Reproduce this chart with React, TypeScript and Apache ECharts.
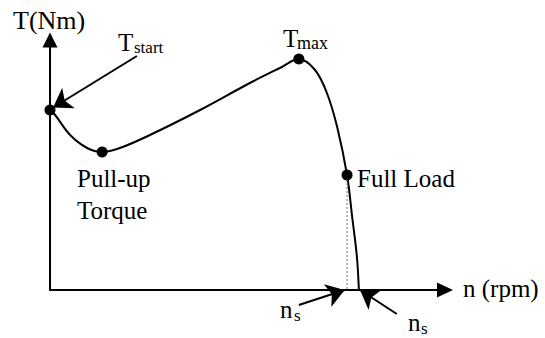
import React, { useEffect, useRef } from "react";
import * as echarts from "echarts";

// torque-speed curve [n, T] in arbitrary units (0..100)
const curveN = [0, 1.3, 5.1, 9.4, 13.2, 17.7, 25.3, 38.0, 50.6, 58.2, 63.0, 67.1, 70.1, 72.7, 75.2, 76.5, 77.7, 78.2];
const curveT = [72, 70, 62, 56.8, 55.2, 56.8, 62, 72, 82.8, 88.8, 92.4, 88, 78.8, 65.2, 46, 29.2, 13.2, 0];

// marked points: Tstart, Pull-up, Tmax, Full load
const pointN = [0, 13.2, 63.0, 75.2];
const pointT = [72, 55.2, 92.4, 46];

// annotation arrows [tailN, tailT, tipN, tipT]
const arrowTstart = [22.0, 93.6, 0.8, 73.0];
const arrowNsLeft = [63.0, -6.0, 74.6, 0];
const arrowNsRight = [87.8, -9.6, 78.5, 0];

const FONT = "'Liberation Serif', 'Times New Roman', serif";

export default function App() {
  const ref = useRef<HTMLDivElement>(null);
  useEffect(() => {
    if (!ref.current) return;
    const chart = echarts.init(ref.current, undefined, { renderer: "svg" });
    const curve = curveN.map((n, i) => [n, curveT[i]]);
    const pts = pointN.map((n, i) => [n, pointT[i]]);
    const mkArrow = (a: number[]) => ({ coords: [[a[0], a[1]], [a[2], a[3]]] });
    const txt = (text: string, x: number, y: number, size: number) => ({
      type: "text",
      x,
      y,
      style: {
        text,
        fontFamily: FONT,
        fontSize: size,
        fill: "#000",
        align: "left",
        verticalAlign: "middle",
      },
    });
    chart.setOption({
      animation: false,
      backgroundColor: "#fff",
      grid: { left: 50, right: 100, top: 40, bottom: 48 },
      xAxis: {
        type: "value",
        min: 0,
        max: 100,
        axisLine: {
          show: true,
          onZero: false,
          symbol: ["none", "triangle"],
          symbolSize: [15, 16],
          lineStyle: { color: "#000", width: 2 },
        },
        axisTick: { show: false },
        axisLabel: { show: false },
        splitLine: { show: false },
      },
      yAxis: {
        type: "value",
        min: 0,
        max: 100,
        axisLine: {
          show: true,
          onZero: false,
          symbol: ["none", "triangle"],
          symbolSize: [15, 15],
          lineStyle: { color: "#000", width: 2 },
        },
        axisTick: { show: false },
        axisLabel: { show: false },
        splitLine: { show: false },
      },
      series: [
        {
          type: "line",
          data: curve,
          smooth: 0.35,
          showSymbol: false,
          symbol: "none",
          clip: false,
          lineStyle: { color: "#000", width: 2 },
        },
        {
          type: "line",
          data: [
            [pointN[3], pointT[3]],
            [pointN[3], 0],
          ],
          symbol: "none",
          lineStyle: { color: "#888", width: 1.2, type: [2, 2] },
        },
        {
          type: "scatter",
          data: pts,
          symbolSize: 11,
          itemStyle: { color: "#000", opacity: 1 },
          z: 5,
        },
        {
          type: "lines",
          coordinateSystem: "cartesian2d",
          clip: false,
          symbol: ["none", "arrow"],
          symbolSize: [11, 18],
          silent: true,
          lineStyle: { color: "#000", width: 2, opacity: 1, curveness: 0 },
          data: [mkArrow(arrowTstart), mkArrow(arrowNsLeft), mkArrow(arrowNsRight)],
        },
      ],
      graphic: [
        txt("T(Nm)", 13, 20, 26),
        txt("T", 118, 42.5, 25),
        txt("start", 134, 47, 17),
        txt("T", 283, 38.5, 25),
        txt("max", 297, 43, 18),
        txt("Pull-up", 77, 178.5, 25),
        txt("Torque", 77, 210, 25),
        txt("Full Load", 357, 178, 25),
        txt("n (rpm)", 463, 288, 25),
        txt("n", 280, 309, 25),
        txt("s", 294, 315.5, 17),
        txt("n", 408, 322, 25),
        txt("s", 421, 328.5, 17),
      ],
    });
    return () => chart.dispose();
  }, []);
  return <div ref={ref} style={{ width: 545, height: 338, position: "absolute", left: 0, top: 0 }} />;
}
